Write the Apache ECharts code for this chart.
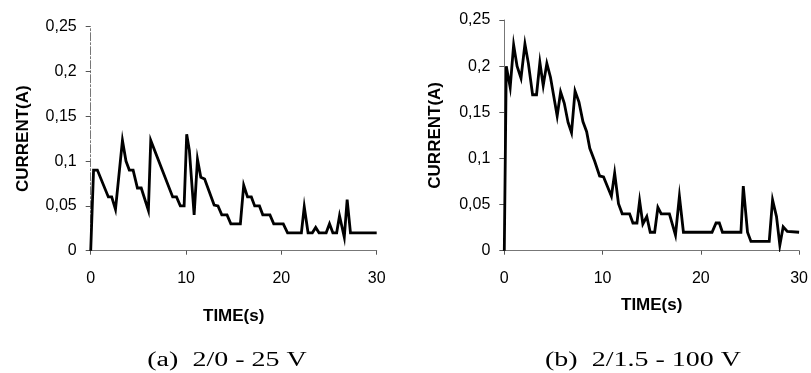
<!DOCTYPE html>
<html>
<head>
<meta charset="utf-8">
<script src="https://cdn.jsdelivr.net/npm/echarts@6/dist/echarts.min.js"></script>
<style>
html,body{margin:0;padding:0;background:#fff;}
#chart{width:811px;height:373px;}
</style>
</head>
<body>
<div id="chart"></div>
<script>
// Chart (a) 2/0 - 25 V : [time (s), current (A)]
var seriesA = [
  [0,0],[0.3,0.09],[0.7,0.09],[1.85,0.06],[2.2,0.06],[2.6,0.046],[3.33,0.123],[3.7,0.1],
  [4.05,0.09],[4.45,0.09],[4.9,0.07],[5.3,0.07],[6.05,0.045],[6.3,0.123],[8.6,0.06],[9.0,0.06],
  [9.4,0.05],[9.8,0.05],[10.07,0.13],[10.35,0.112],[10.85,0.04],[11.2,0.102],[11.55,0.082],
  [11.95,0.08],[12.95,0.051],[13.35,0.05],[13.75,0.04],[14.3,0.04],[14.7,0.03],[15.7,0.03],
  [16.05,0.073],[16.45,0.06],[16.85,0.06],[17.2,0.05],[17.7,0.05],[18.05,0.04],[18.8,0.04],
  [19.2,0.03],[20.2,0.03],[20.65,0.02],[22.1,0.02],[22.4,0.049],[22.8,0.02],[23.25,0.02],
  [23.6,0.026],[23.95,0.02],[24.7,0.02],[25.05,0.03],[25.4,0.02],[25.8,0.02],[26.1,0.039],
  [26.6,0.015],[26.9,0.057],[27.25,0.02],[30,0.02]
];
// Chart (b) 2/1.5 - 100 V : [time (s), current (A)]
var seriesB = [
  [0,0],[0.2,0.2],[0.4,0.2],[0.6,0.177],[0.95,0.223],[1.3,0.2],[1.7,0.187],[2.1,0.224],
  [2.45,0.203],[2.88,0.169],[3.28,0.169],[3.62,0.204],[3.96,0.179],[4.33,0.203],[4.7,0.188],
  [5.38,0.146],[5.73,0.172],[6.1,0.16],[6.49,0.139],[6.84,0.128],[7.2,0.173],[7.6,0.161],
  [8.0,0.14],[8.38,0.129],[8.7,0.111],[9.2,0.097],[9.7,0.081],[10.1,0.08],[10.9,0.059],
  [11.23,0.084],[11.62,0.051],[12.0,0.04],[12.75,0.04],[13.09,0.03],[13.5,0.03],[13.77,0.054],
  [14.1,0.029],[14.5,0.037],[14.85,0.02],[15.3,0.02],[15.63,0.047],[15.97,0.04],[16.8,0.04],
  [17.42,0.017],[17.82,0.059],[18.23,0.02],[21.14,0.02],[21.55,0.03],[21.88,0.03],[22.2,0.02],
  [24.08,0.02],[24.32,0.07],[24.75,0.02],[25.1,0.01],[26.96,0.01],[27.3,0.055],[27.7,0.037],
  [28.04,0.006],[28.38,0.026],[28.8,0.021],[30,0.02]
];
var xTicks = {min: 0, max: 30, interval: 10};
var yTicks = {min: 0, max: 0.25, interval: 0.05};
var xTitle = 'TIME(s)';
var yTitle = 'CURRENT(A)';
var captions = ['(a)  2/0 - 25 V', '(b)  2/1.5 - 100 V'];

var sans = "'Liberation Sans', Arial, sans-serif";
var serif = "'Liberation Serif', 'Times New Roman', serif";
function yFmt(v){ if (Math.abs(v) < 1e-9) return '0'; return v.toFixed(2).replace(/0$/,'').replace('.', ','); }

function xAxis(idx, gap){
  return {
    type: 'value', gridIndex: idx, min: xTicks.min, max: xTicks.max, interval: xTicks.interval,
    name: xTitle, nameLocation: 'middle', nameGap: gap,
    nameTextStyle: {fontFamily: sans, fontWeight: 'bold', fontSize: 17, color: '#000'},
    axisLine: {show: true, lineStyle: {color: '#777', width: 1}},
    axisTick: {show: true, length: 4, lineStyle: {color: '#555'}},
    axisLabel: {fontFamily: sans, fontSize: 16, color: '#000', margin: 20},
    splitLine: {show: false}
  };
}
function yAxis(idx, dashed, gap){
  return {
    type: 'value', gridIndex: idx, min: yTicks.min, max: yTicks.max, interval: yTicks.interval,
    name: yTitle, nameLocation: 'middle', nameGap: gap, nameRotate: 90,
    nameTextStyle: {fontFamily: sans, fontWeight: 'bold', fontSize: 17, color: '#000'},
    axisLine: {show: true, lineStyle: {color: '#777', width: 1, type: dashed ? [8,2,2,2] : 'solid'}},
    axisTick: {show: true, length: 5, lineStyle: {color: '#555'}},
    axisLabel: {fontFamily: sans, fontSize: 16, color: '#000', margin: 14, formatter: yFmt},
    splitLine: {show: false}
  };
}
function lineSeries(idx, data){
  return {
    type: 'line', xAxisIndex: idx, yAxisIndex: idx, data: data, showSymbol: false,
    lineStyle: {color: '#000', width: 2.8, join: 'miter'}, animation: false
  };
}

var chart = echarts.init(document.getElementById('chart'), null, {renderer: 'canvas'});
chart.setOption({
  backgroundColor: '#fff',
  animation: false,
  grid: [
    {left: 90.7, right: 811 - 376.7, top: 26.7, bottom: 373 - 250.7},
    {left: 504.3, right: 811 - 800, top: 20, bottom: 373 - 250.7}
  ],
  xAxis: [xAxis(0, 57), xAxis(1, 46)],
  yAxis: [yAxis(0, true, 59), yAxis(1, false, 60)],
  series: [lineSeries(0, seriesA), lineSeries(1, seriesB)],
  graphic: [
    {type: 'text', x: 227, y: 361, scaleX: 1.4, originX: 0, style: {text: captions[0], font: '20px ' + serif, fill: '#000', textAlign: 'center', textVerticalAlign: 'middle'}},
    {type: 'text', x: 643, y: 361, scaleX: 1.4, originX: 0, style: {text: captions[1], font: '20px ' + serif, fill: '#000', textAlign: 'center', textVerticalAlign: 'middle'}}
  ]
});
</script>
</body>
</html>
